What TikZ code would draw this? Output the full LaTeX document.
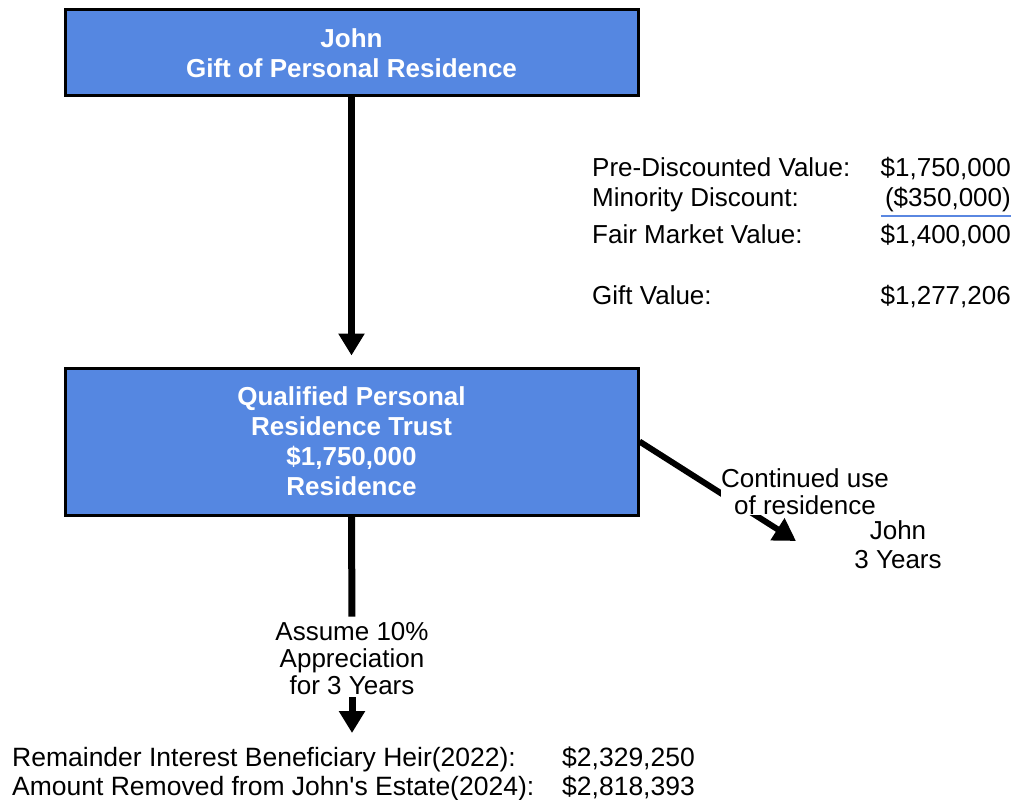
\documentclass[tikz,border=0pt]{standalone}
\usepackage{fontspec}
\setmainfont{Liberation Sans}[Ligatures=TeXOff]
\usepackage{tikz}
\usepackage{xcolor}
\usetikzlibrary{arrows.meta,positioning}
\definecolor{qpBlue}{RGB}{85,135,225}
\definecolor{qpRule}{RGB}{90,135,225}
\newcommand{\qpfont}[1]{\fontsize{26}{#1}\selectfont}

\begin{document}
\begin{tikzpicture}[x=1pt,y=-1pt,
  qbox/.style={draw=black,line width=3pt,fill=qpBlue,text=white,
    font=\qpfont{30}\bfseries,align=center,minimum width=573pt},
  flow/.style={line width=7pt},
  tip/.style={-{Triangle[width=25pt,length=22pt]}},
  txt/.style={font=\qpfont{30},inner sep=0pt},
  btxt/.style={txt,anchor=base west,font=\fontsize{26.5}{29}\selectfont}]
  \useasboundingbox (0,0) rectangle (1026,800);
  \node[qbox,minimum height=86pt] (gift) at (351.5,53) {John\\Gift of Personal Residence};
  \node[qbox,minimum height=147pt] (qprt) at (351.5,441.5) {Qualified Personal\\Residence Trust\\\$1,750,000\\Residence};
  \draw[flow,tip,shorten >=11pt] (gift.south) -- (qprt.north);

  \node[txt,anchor=base west] (prelbl) at (592,176) {Pre-Discounted Value:};
  \node[txt,anchor=base east] (preval) at (1011,176) {\$1,750,000};
  \node[txt,anchor=base west] (minlbl) at (592,206) {Minority Discount:};
  \node[txt,anchor=base east] (minval) at (1011,206) {(\$350,000)};
  \node[txt,anchor=base west] (fmvlbl) at (592,243) {Fair Market Value:};
  \node[txt,anchor=base east] (fmvval) at (1011,243) {\$1,400,000};
  \node[txt,anchor=base west] (giftlbl) at (592,304) {Gift Value:};
  \node[txt,anchor=base east] (giftval) at (1011,304) {\$1,277,206};
  \draw[qpRule,line width=2pt] ([yshift=-10pt,xshift=-4pt]minval.base west) -- ([yshift=-10pt]minval.base east);

  \coordinate (usetip) at (796,541);
  \draw[line width=6pt,tip] (qprt.east) -- (usetip);
  \node[txt,fill=white,align=center,font=\qpfont{27}] (use) at (805,492) {Continued use\\of residence};
  \node[txt,align=center,font=\qpfont{29}] (john) at (898,545) {John\\3 Years};

  \node[txt,align=center,font=\qpfont{27}] (appr) at (352,659) {Assume 10\%\\Appreciation\\for 3 Years};
  \coordinate (heirtop) at (352,733);
  \draw[flow,shorten >=6pt] (qprt.south) -- (appr.north);
  \draw[flow,tip,shorten <=2pt] (appr.south) -- (heirtop);

  \node[btxt] (heir) at (12,766) {Remainder Interest Beneficiary Heir(2022):};
  \node[btxt] (heirval) at (562,766) {\$2,329,250};
  \node[btxt] (estate) at (12,795) {Amount Removed from John's Estate(2024):};
  \node[btxt] (estateval) at (562,795) {\$2,818,393};
\end{tikzpicture}
\end{document}
